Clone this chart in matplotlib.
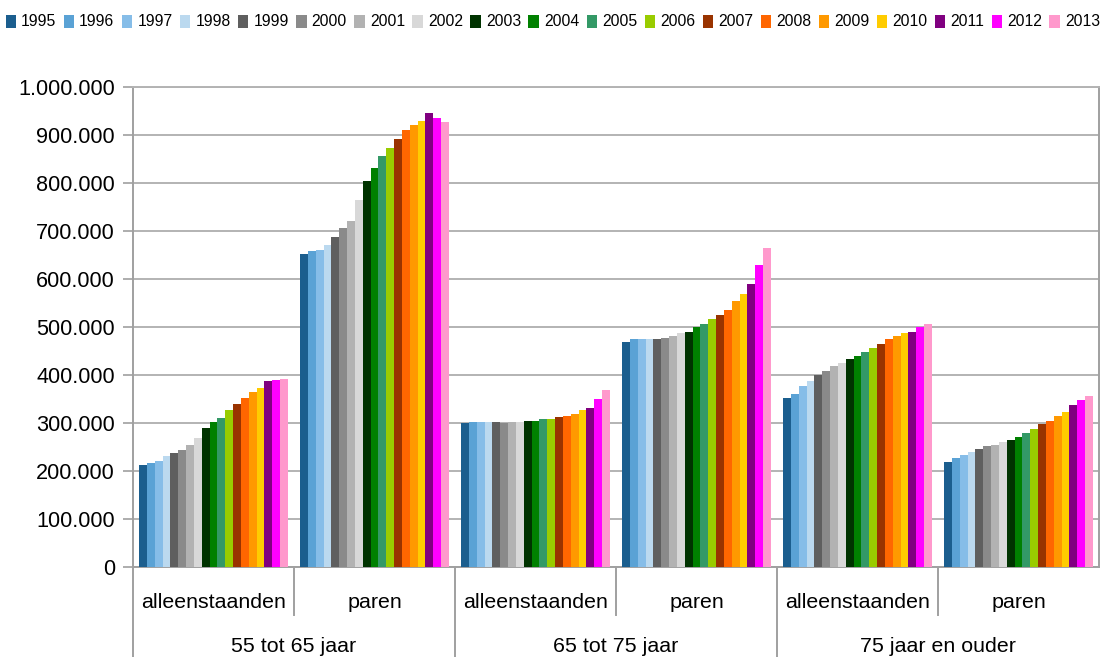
import numpy as np
import matplotlib
matplotlib.use("Agg")
import matplotlib.pyplot as plt
from matplotlib.patches import Patch
from matplotlib.ticker import FuncFormatter

plt.rcParams['font.family'] = ['Liberation Sans', 'DejaVu Sans']

years = [str(y) for y in range(1995, 2014)]
groups = ['55 tot 65 jaar', '65 tot 75 jaar', '75 jaar en ouder']
subgroups = ['alleenstaanden', 'paren']

# one list per category (groups x subgroups), values per year 1995..2013
alleen_55 = [212000, 216000, 220000, 231000, 237000, 243000, 254000, 268000, 290000, 302000,
             310000, 327000, 340000, 352000, 365000, 373000, 388000, 390000, 392000]
paren_55 = [652000, 658000, 660000, 671000, 687000, 706000, 721000, 765000, 804000, 831000,
            856000, 873000, 892000, 910000, 921000, 929000, 946000, 935000, 927000]
alleen_65 = [301000, 303000, 303000, 303000, 303000, 301000, 303000, 303000, 305000, 305000,
             309000, 309000, 313000, 315000, 319000, 328000, 332000, 351000, 369000]
paren_65 = [469000, 474000, 474000, 476000, 476000, 478000, 482000, 488000, 490000, 501000,
            507000, 517000, 526000, 536000, 555000, 569000, 590000, 630000, 665000]
alleen_75 = [353000, 361000, 378000, 388000, 401000, 409000, 419000, 424000, 434000, 440000,
             447000, 457000, 465000, 476000, 482000, 488000, 490000, 501000, 507000]
paren_75 = [219000, 227000, 234000, 240000, 246000, 252000, 255000, 261000, 265000, 271000,
            280000, 288000, 297000, 305000, 315000, 322000, 338000, 347000, 357000]

colors = ['#1b5e8e', '#5aa2d5', '#86bde8', '#bbd9ef', '#5f5f5f', '#8a8a8a', '#b2b2b2', '#d8d8d8',
          '#003300', '#008000', '#339966', '#99cc00', '#993300', '#ff6600', '#ff9900', '#ffcc00',
          '#800080', '#ff00ff', '#ff99cc']

data = np.array([alleen_55, paren_55, alleen_65, paren_65, alleen_75, paren_75])

fig = plt.figure(figsize=(11, 6.57), dpi=100)
ax = fig.add_axes([133/1100, 1 - 567/657, 966/1100, 480/657])

ncat = data.shape[0]
w = 0.925 / len(years)
x = np.arange(ncat) + 0.5
for j, yr in enumerate(years):
    ax.bar(x + (j - (len(years) - 1) / 2) * w, data[:, j], width=w, color=colors[j],
           linewidth=0, zorder=3)

ax.set_xlim(0, ncat)
ax.set_ylim(0, 1000000)
ax.set_yticks(np.arange(0, 1000001, 100000))
ax.yaxis.set_major_formatter(FuncFormatter(lambda v, p: f"{v:,.0f}".replace(",", ".")))
ax.tick_params(axis='y', labelsize=15.6, length=7, width=1.2, color='#a0a0a0', pad=6)
ax.grid(axis='y', color='#b3b3b3', linewidth=1.4, zorder=0)
ax.set_xticks([])
for s in ['left', 'right', 'top', 'bottom']:
    ax.spines[s].set_color('#a0a0a0')
    ax.spines[s].set_linewidth(1.4)
ax.spines['top'].set_color('#b3b3b3')

# two-level category axis
tr = ax.get_xaxis_transform()
ybot = -90 / 480
ysub = -48 / 480
for i in range(ncat):
    ax.text(i + 0.5, -35 / 480, subgroups[i % 2], ha='center', va='center', fontsize=15.4,
            transform=tr)
for g, name in enumerate(groups):
    ax.text(2 * g + 1, -80 / 480, name, ha='center', va='center', fontsize=15.4, transform=tr)
for i in range(ncat):
    y0 = ybot if i % 2 == 0 else ysub
    ax.plot([i, i], [0, y0], color='#a0a0a0', lw=1.4, transform=tr, clip_on=False)

handles = [Patch(facecolor=c, edgecolor='none') for c in colors]
fig.legend(handles, years, loc='center', bbox_to_anchor=(0.5025, 1 - 22 / 657), ncol=len(years),
           frameon=False, fontsize=11.3, handlelength=0.67, handleheight=0.9,
           handletextpad=0.32, columnspacing=0.47, borderpad=0, borderaxespad=0)

fig.savefig('out.png', dpi=100)
